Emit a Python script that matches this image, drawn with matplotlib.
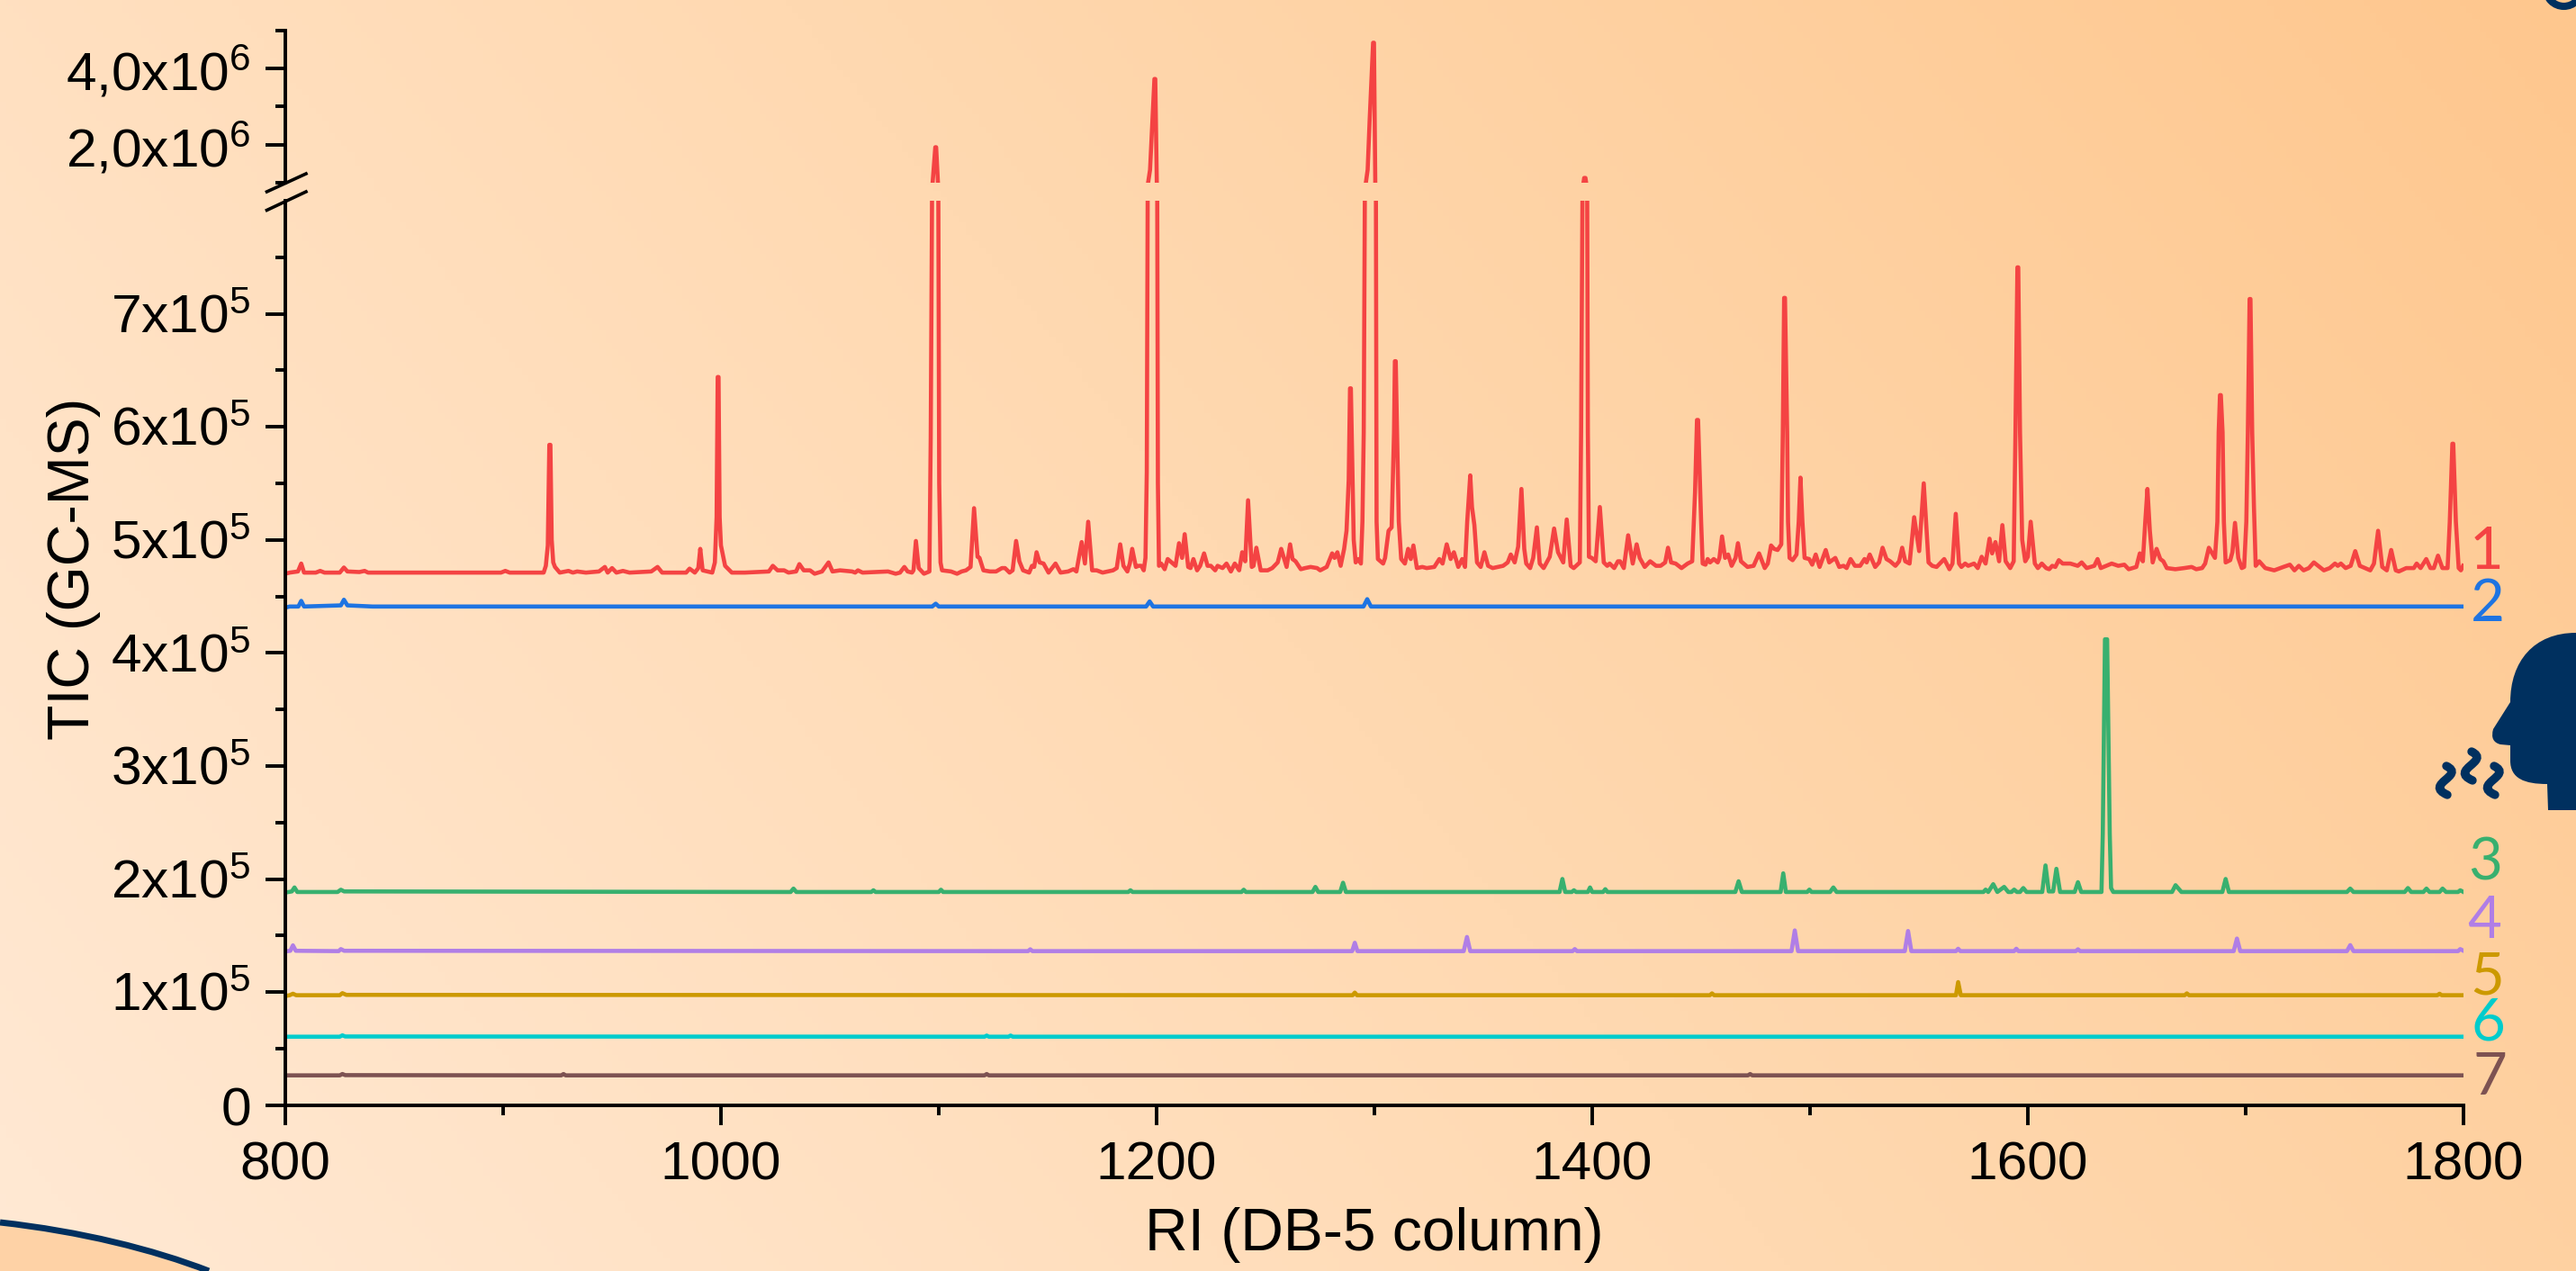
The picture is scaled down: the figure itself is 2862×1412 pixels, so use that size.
import numpy as np
from matplotlib import pyplot as plt
from matplotlib.path import Path
from matplotlib.patches import PathPatch, Circle
from matplotlib.colors import LinearSegmentedColormap

W, H = 2862, 1412

# all TIC values are in units of 1e5
trace1 = [(800,4.70),(802,4.71),(805.8,4.72),(807.3,4.79),(808.6,4.71),(814,4.71),(816,4.725),(818,4.71),(825,4.71),
(826.9,4.755),(828.5,4.72),(834,4.715),(836.4,4.725),(838,4.71),(899,4.71),(901,4.725),(903,4.71),(918.6,4.71),
(919.6,4.77),(920.5,4.95),(921.2,5.84),(921.7,5.84),(922.3,5.0),(923,4.8),(923.8,4.76),(926,4.71),(930,4.725),(932,4.71),
(934,4.72),(938,4.71),(944,4.72),(946.7,4.76),(948,4.71),(950,4.75),(952,4.71),(955,4.725),(958,4.71),(968,4.72),
(970.9,4.76),(973,4.71),(984,4.71),(985.6,4.745),(988,4.71),(989.6,4.75),(990.5,4.92),(991.6,4.73),(996,4.71),(997.2,4.8),
(998.0,5.2),(998.5,6.44),(998.9,6.44),(999.4,5.2),(1000,4.95),(1001.9,4.77),(1005,4.71),(1011,4.71),(1022,4.72),(1023.8,4.77),
(1026,4.73),(1029,4.73),(1031,4.71),(1034.5,4.72),(1036,4.785),(1038,4.73),(1040.9,4.73),(1043,4.70),(1046.4,4.72),
(1049.4,4.80),(1051.2,4.72),(1054.7,4.73),(1060.2,4.72),(1061.6,4.71),(1062.9,4.73),(1065,4.71),(1076.7,4.72),(1080.2,4.70),
(1082.2,4.71),(1084.2,4.76),(1085.7,4.72),(1087.7,4.71),(1088.4,4.73),(1089.5,4.99),(1090.8,4.75),(1093.2,4.70),(1095.7,4.72),
(1096.3,5.9),(1096.9,8.0),(1098.4,19.3),(1098.8,19.3),(1099.8,8),(1100.2,5.5),(1100.8,4.8),(1101.5,4.73),(1105.6,4.72),
(1108.4,4.70),(1110.5,4.72),(1112.5,4.73),(1114.6,4.76),(1116.2,5.28),(1117.8,4.85),(1118.7,4.84),(1120.5,4.73),(1123.5,4.72),
(1126.3,4.72),(1129,4.75),(1130.4,4.75),(1132.5,4.71),(1133.9,4.73),(1135.5,4.99),(1137,4.81),(1138.7,4.73),(1141.5,4.71),
(1142.8,4.77),(1143.8,4.76),(1144.9,4.89),(1146.3,4.80),(1148.1,4.79),(1150.4,4.71),(1153.6,4.79),(1155.9,4.71),(1159.4,4.72),
(1161.8,4.74),(1163.2,4.72),(1165.6,4.98),(1167.1,4.79),(1168.6,5.16),(1170.4,4.73),(1172.5,4.73),(1175.2,4.71),(1180,4.73),
(1181.7,4.75),(1183.3,4.96),(1184.8,4.77),(1186.6,4.72),(1187.7,4.79),(1188.8,4.92),(1190.5,4.76),(1191.7,4.77),(1193,4.77),
(1194.1,4.73),(1194.9,4.84),(1195.5,5.6),(1195.9,8),(1196.1,10),(1197,13.4),(1199,37.2),(1199.4,37.2),(1200.1,10),(1200.3,8),
(1200.6,5.5),(1201.1,4.77),(1202.1,4.79),(1203.7,4.74),(1205.1,4.83),(1206.9,4.80),(1208.7,4.77),(1210.3,4.97),(1211.7,4.84),
(1212.9,5.05),(1214.5,4.76),(1215.6,4.75),(1216.9,4.83),(1218.6,4.73),(1220,4.77),(1221.8,4.88),(1223.4,4.77),(1224.9,4.77),
(1226.9,4.73),(1228,4.77),(1230.3,4.75),(1232.1,4.79),(1234.1,4.72),(1235.9,4.79),(1237.9,4.73),(1239.3,4.89),(1240.7,4.81),
(1242,5.35),(1243.7,4.76),(1244.5,4.77),(1245.8,4.93),(1247.8,4.73),(1251,4.73),(1253.1,4.75),(1255.6,4.80),(1257.2,4.92),
(1259.7,4.76),(1261.3,4.96),(1262.4,4.83),(1263.8,4.81),(1266.2,4.74),(1268.2,4.75),(1270.7,4.76),(1273.7,4.75),(1275.1,4.73),
(1278.1,4.76),(1280.6,4.88),(1281.7,4.84),(1283,4.89),(1284.5,4.77),(1286.1,4.92),(1287.2,5.08),(1288.2,5.53),(1288.8,6.34),
(1289.2,6.34),(1290,5.53),(1290.5,5.0),(1291.4,4.80),(1292.7,4.83),(1293.8,4.79),(1294.5,5.16),(1295.1,5.95),(1295.6,8),
(1296.9,13.4),(1297.8,26.2),(1299.4,46.7),(1299.8,46.7),(1300.4,10),(1300.7,8),(1301,5.16),(1301.6,4.83),(1304,4.79),
(1304.9,4.84),(1306.5,5.08),(1307.9,5.11),(1309,5.95),(1309.4,6.58),(1309.8,6.58),(1310.4,5.95),(1311.2,5.16),(1312.3,4.83),
(1314,4.79),(1315.5,4.92),(1316.7,4.83),(1317.9,4.95),(1319.5,4.75),(1322,4.76),(1324,4.75),(1327.5,4.76),(1329.8,4.83),
(1331.3,4.79),(1333.2,4.96),(1335,4.83),(1336.5,4.89),(1338.5,4.76),(1340.3,4.83),(1341.6,4.76),(1342.6,5.16),(1344,5.57),
(1344.8,5.29),(1345.9,5.13),(1347.1,4.80),(1348.8,4.76),(1350.5,4.89),(1352.2,4.77),(1354.3,4.75),(1359.1,4.77),(1361.2,4.80),
(1362.6,4.87),(1364.4,4.80),(1366,4.94),(1367.5,5.45),(1368.8,4.92),(1369.7,4.79),(1371.5,4.75),(1372.9,4.84),(1374.6,5.11),
(1375.9,4.79),(1377.7,4.75),(1380.5,4.85),(1382.5,5.10),(1384.3,4.89),(1386.7,4.80),(1388.3,5.18),(1390.1,4.77),(1391.5,4.75),
(1394.3,4.80),(1394.9,5.95),(1395.5,8),(1396.3,11.25),(1396.9,11.25),(1397.7,8),(1398,5.95),(1398.5,4.85),(1399.8,4.84),
(1401.6,4.81),(1403.5,5.29),(1405.3,4.80),(1406.9,4.77),(1408,4.79),(1410.1,4.75),(1411.8,4.81),(1412.8,4.81),(1414.5,4.75),
(1416.5,5.04),(1418.6,4.79),(1420.4,4.96),(1421.8,4.84),(1424.1,4.76),(1426.6,4.81),(1429.3,4.77),(1431.4,4.77),(1433.5,4.80),
(1434.8,4.93),(1436.2,4.80),(1438.3,4.79),(1441,4.75),(1443.8,4.79),(1445.9,4.81),(1447.2,5.42),(1448.1,6.06),(1448.6,6.06),
(1450,5.16),(1450.7,4.79),(1452,4.78),(1453,4.83),(1454.1,4.80),(1455.8,4.83),(1457.6,4.80),(1458.4,4.84),(1459.6,5.03),
(1461,4.84),(1462.4,4.87),(1464,4.77),(1465.8,4.84),(1466.9,4.97),(1468.3,4.81),(1471.3,4.76),(1474.1,4.77),(1476.6,4.88),
(1479.2,4.75),(1480.6,4.79),(1482.1,4.95),(1483.5,4.92),(1485.1,4.91),(1486.8,4.96),(1487.5,5.95),(1488.1,7.14),(1488.5,7.14),
(1489.5,5.95),(1489.9,5.16),(1490.6,4.84),(1492,4.82),(1493.8,4.87),(1494.8,5.16),(1495.6,5.55),(1496.5,5.16),(1497.5,4.84),
(1499.6,4.83),(1501,4.78),(1502.6,4.87),(1504.4,4.76),(1507.2,4.91),(1508.8,4.80),(1511.6,4.84),(1513.4,4.76),(1515.4,4.77),
(1516.8,4.75),(1518.6,4.83),(1520.6,4.77),(1523,4.77),(1525,4.83),(1526,4.80),(1527.4,4.87),(1529.9,4.76),(1531.7,4.80),
(1533.3,4.93),(1535.1,4.83),(1536.8,4.81),(1539.2,4.77),(1540.9,4.81),(1542.3,4.93),(1543.7,4.81),(1545.7,4.79),(1547.8,5.20),
(1550.1,4.90),(1552.2,5.50),(1554.4,4.80),(1556.1,4.77),(1558.1,4.76),(1561.6,4.83),(1564,4.74),(1565.4,4.79),(1566.9,5.23),
(1568.4,4.79),(1569.5,4.76),(1571.2,4.79),(1572.6,4.77),(1575.3,4.79),(1577,4.75),(1578.8,4.85),(1580.6,4.79),(1582.4,5.01),
(1583.6,4.88),(1585.1,4.98),(1586.8,4.81),(1588.3,5.13),(1589.8,4.81),(1591.9,4.75),(1593.5,4.81),(1594.3,5.95),(1595.2,7.41),
(1595.6,7.41),(1596.4,5.95),(1597.4,5.0),(1598.8,4.81),(1600,4.85),(1601.3,5.16),(1603.2,4.79),(1604.6,4.75),(1606.4,4.79),
(1608.4,4.75),(1609.8,4.74),(1611.2,4.77),(1612.6,4.76),(1614.2,4.82),(1616,4.79),(1619.5,4.79),(1622.9,4.77),(1624.7,4.80),
(1627,4.75),(1630.5,4.77),(1632,4.83),(1633.5,4.75),(1636,4.77),(1638.5,4.79),(1641.5,4.77),(1644.3,4.78),(1646.3,4.74),
(1649.8,4.76),(1651.4,4.88),(1652.8,4.81),(1653.9,5.16),(1654.9,5.45),(1656,5.08),(1657.3,4.80),(1659.1,4.92),(1660.8,4.83),
(1662.2,4.81),(1663.8,4.75),(1667.7,4.74),(1671.8,4.75),(1675.2,4.76),(1677.3,4.74),(1680,4.75),(1681.4,4.79),(1683.1,4.93),
(1685.9,4.84),(1687,5.16),(1687.6,5.95),(1688.2,6.28),(1688.6,6.28),(1689.4,5.95),(1690,5.16),(1690.8,4.80),(1692.9,4.82),
(1693.9,4.89),(1695.1,5.15),(1696.6,4.84),(1698.2,4.75),(1699.3,4.76),(1700.3,5.16),(1701,5.95),(1701.8,7.13),(1702.2,7.13),
(1703,5.95),(1703.8,5.29),(1704.6,4.77),(1706.2,4.81),(1709,4.75),(1713.1,4.73),(1717.3,4.76),(1720.3,4.78),(1722.4,4.73),
(1724.4,4.77),(1726.6,4.73),(1729,4.75),(1731.3,4.80),(1735.9,4.73),(1738.6,4.75),(1741,4.79),(1742.3,4.77),(1743.7,4.79),
(1745.9,4.75),(1748.2,4.77),(1750.3,4.90),(1752.4,4.77),(1757.2,4.73),(1758.9,4.79),(1760.8,5.08),(1762.7,4.76),(1764.8,4.73),
(1766.8,4.91),(1768.9,4.73),(1770.3,4.72),(1773.7,4.75),(1777.2,4.75),(1778.5,4.79),(1780.3,4.75),(1782.9,4.83),(1784.8,4.75),
(1786.4,4.75),(1788.3,4.86),(1790.3,4.75),(1792.7,4.75),(1793.7,5.16),(1794.9,5.85),(1795.3,5.85),(1796.5,5.16),(1797.8,4.75),
(1798.8,4.73),(1799.8,4.77)]

trace2 = [(800,4.40),(802,4.41),(806,4.41),(807.3,4.46),(808.6,4.41),(825.5,4.42),(826.9,4.47),(828.5,4.42),(840,4.41),
(1097,4.41),(1098.6,4.435),(1100,4.41),(1195.2,4.41),(1196.8,4.455),(1198.4,4.41),(1295,4.41),(1296.7,4.475),(1298.4,4.41),(1800,4.41)]

trace3 = [(800,1.88),(803,1.89),(804.2,1.925),(805.5,1.885),(824,1.885),(825.5,1.905),(827,1.89),(1032,1.885),(1033.3,1.915),
(1034.6,1.885),(1069,1.885),(1070,1.90),(1071,1.885),(1100,1.885),(1101,1.905),(1102,1.885),(1187,1.885),(1188,1.90),(1189,1.885),
(1239,1.885),(1240,1.905),(1241,1.885),(1271.6,1.885),(1272.9,1.93),(1274.2,1.885),(1284.3,1.885),(1285.6,1.967),(1286.9,1.885),
(1385,1.885),(1386.3,2.0),(1387.6,1.885),(1390.6,1.885),(1391.6,1.90),(1392.6,1.885),(1398,1.885),(1399,1.925),(1400,1.885),
(1405,1.885),(1406,1.91),(1407,1.885),(1465.7,1.885),(1467.2,1.98),(1468.7,1.885),(1486.5,1.885),(1487.7,2.05),(1488.9,1.885),
(1498.7,1.885),(1499.7,1.906),(1500.7,1.885),(1509.2,1.885),(1510.7,1.925),(1512.2,1.885),(1579.6,1.885),(1580.6,1.906),(1581.8,1.885),
(1584.1,1.954),(1586,1.885),(1589.1,1.93),(1591,1.885),(1592.5,1.885),(1593.7,1.906),(1595,1.885),(1596.4,1.885),(1597.9,1.92),
(1599.4,1.885),(1606.6,1.885),(1608.1,2.12),(1609.6,1.89),(1611.6,1.89),(1613.1,2.09),(1614.8,1.885),(1621.5,1.885),(1623,1.972),
(1624.5,1.885),(1633.8,1.885),(1634.4,2.4),(1635.4,4.12),(1636.4,4.12),(1637.6,2.4),(1638.2,1.92),(1639.2,1.885),(1666.2,1.885),
(1667.8,1.945),(1670.5,1.885),(1689.3,1.885),(1690.8,2.0),(1692.3,1.885),(1746.5,1.885),(1748,1.915),(1749.5,1.885),(1773,1.885),
(1774.5,1.92),(1776,1.885),(1781.6,1.885),(1783,1.915),(1784.4,1.885),(1789,1.885),(1790.4,1.915),(1792,1.885),(1797.5,1.885),
(1798.5,1.90),(1800,1.885)]

trace4 = [(800,1.36),(802.3,1.365),(803.5,1.413),(804.8,1.365),(824.5,1.362),(825.5,1.38),(827,1.365),(1141,1.362),(1142,1.378),
(1143,1.362),(1289.8,1.362),(1291,1.436),(1292.2,1.362),(1341,1.362),(1342.5,1.487),(1344,1.362),(1391,1.362),(1392,1.38),(1393,1.362),
(1491.5,1.362),(1493,1.545),(1494.5,1.362),(1543.5,1.362),(1545,1.54),(1546.5,1.362),(1567,1.362),(1568,1.383),(1569,1.362),
(1593.7,1.362),(1594.7,1.383),(1595.7,1.362),(1622,1.362),(1623,1.378),(1624,1.362),(1694.5,1.362),(1696,1.473),(1697.5,1.362),
(1746.5,1.362),(1748,1.415),(1749.5,1.362),(1797.5,1.362),(1798.5,1.38),(1800,1.365)]

trace5 = [(800,0.965),(802,0.972),(803.5,0.985),(805,0.972),(825,0.972),(826.2,0.99),(828,0.975),(1290,0.972),(1291,0.995),(1292,0.972),
(1454,0.972),(1455,0.988),(1456,0.972),(1567,0.972),(1568,1.088),(1569.2,0.972),(1672,0.972),(1673,0.988),(1674,0.972),
(1788,0.972),(1789,0.985),(1790,0.972),(1800,0.972)]

trace6 = [(800,0.605),(825,0.605),(826.2,0.617),(827.5,0.607),(1121,0.605),(1122,0.615),(1123,0.605),(1132,0.605),(1133,0.615),(1134,0.605),(1800,0.605)]

trace7 = [(800,0.263),(825,0.263),(826.2,0.275),(827.5,0.265),(926.7,0.263),(927.7,0.275),(928.7,0.263),(1121,0.263),(1122,0.275),(1123,0.263),
(1471.5,0.263),(1472.5,0.275),(1473.5,0.263),(1800,0.263)]

series_colors = ['#f44343', '#1e74e2', '#38b06f', '#b07ee6', '#cc9900', '#00cccc', '#7d5252']
series_labels = ['1', '2', '3', '4', '5', '6', '7']
label_y = [613, 671, 959, 1024, 1086, 1137, 1197]
label_x = [2763, 2764, 2761, 2760, 2763, 2764, 2766]

low_major = [0, 1, 2, 3, 4, 5, 6, 7]
low_minor = [0.5, 1.5, 2.5, 3.5, 4.5, 5.5, 6.5, 7.5]
low_labels = ['0', '1x10^{5}', '2x10^{5}', '3x10^{5}', '4x10^{5}', '5x10^{5}', '6x10^{5}', '7x10^{5}']
up_major = [20, 40]
up_minor = [10, 30, 50]
up_labels = ['2{,}0x10^{6}', '4{,}0x10^{6}']
x_major = [800, 1000, 1200, 1400, 1600, 1800]
x_minor = [900, 1100, 1300, 1500, 1700]

plt.rcParams['font.family'] = 'Liberation Sans'
plt.rcParams['mathtext.fontset'] = 'custom'
plt.rcParams['mathtext.rm'] = 'Liberation Sans'
plt.rcParams['mathtext.default'] = 'rm'

fig = plt.figure(figsize=(W / 100, H / 100), dpi=100)

# page behind the chart, in pixel coordinates
bg = fig.add_axes([0, 0, 1, 1])
bg.set_xlim(0, W)
bg.set_ylim(H, 0)
bg.axis('off')
yy, xx = np.mgrid[0:1:200j, 0:1:400j]
grad = 0.72 * xx + 0.28 * (1 - yy)
cmap = LinearSegmentedColormap.from_list('page', ['#ffe9d4', '#ffd9b1', '#fec78e'])
bg.imshow(grad, cmap=cmap, extent=[0, W, H, 0], aspect='auto', vmin=0, vmax=1, zorder=0)

navy = '#00305f'
head = Path([(2862, 703), (2815, 703), (2789, 735), (2789, 780), (2770, 810), (2766, 824), (2778, 827),
             (2789, 828), (2789, 845), (2789, 865), (2805, 871), (2830, 871), (2831, 900), (2862, 900), (2862, 703)],
            [Path.MOVETO, Path.CURVE4, Path.CURVE4, Path.CURVE4, Path.LINETO, Path.CURVE3, Path.CURVE3,
             Path.LINETO, Path.LINETO, Path.CURVE4, Path.CURVE4, Path.CURVE4, Path.LINETO, Path.LINETO, Path.CLOSEPOLY])
bg.add_patch(PathPatch(head, fc=navy, ec='none', zorder=1))
for cx, cy in [(2716, 867), (2744, 851), (2769, 867)]:
    wave = Path([(cx + 2, cy - 16), (cx + 24, cy - 5), (cx - 24, cy + 4), (cx + 3, cy + 16)],
                [Path.MOVETO, Path.CURVE4, Path.CURVE4, Path.CURVE4])
    bg.add_patch(PathPatch(wave, fc='none', ec=navy, lw=6.8, capstyle='round', zorder=1))
curve = [(0, 1358), (90, 1368), (170, 1388), (232, 1412)]
curve_codes = [Path.MOVETO, Path.CURVE4, Path.CURVE4, Path.CURVE4]
fill = Path(curve + [(0, 1412), (0, 1358)], curve_codes + [Path.LINETO, Path.LINETO])
bg.add_patch(PathPatch(fill, fc='#fed2a6', ec='none', zorder=1))
bg.add_patch(PathPatch(Path(curve, curve_codes), fc='none', ec=navy, lw=5, zorder=1))
bg.add_patch(Circle((2848.5, -13), 20, fc='none', ec=navy, lw=5.8, zorder=1))

for name, x, y, c in zip(series_labels, label_x, label_y, series_colors):
    bg.text(x, y, name, color=c, family='Lato', fontsize=47, ha='center', va='center', zorder=2)
bg.text(82, 632, 'TIC (GC-MS)', rotation=90, fontsize=46.5, ha='center', va='center', zorder=2)
bg.text(1527, 1372, 'RI (DB-5 column)', fontsize=47.5, ha='center', va='center', zorder=2)

L, R = 317 / W, (2737 - 317) / W
ax = fig.add_axes([L, 1 - 1227.7 / H, R, (1227.7 - 222.9) / H])
ax_up = fig.add_axes([L, 1 - 203 / H, R, (203 - 33.5) / H])

traces = [trace1, trace2, trace3, trace4, trace5, trace6, trace7]
for tr, c in zip(traces, series_colors):
    ri, tic = zip(*tr)
    ax.plot(ri, tic, color=c, lw=3.3, solid_joinstyle='round')
    ax_up.plot(ri, tic, color=c, lw=3.3, solid_joinstyle='round')

ax.set_xlim(800, 1800)
ax.set_ylim(0, 8)
ax_up.set_xlim(800, 1800)
ax_up.set_ylim(10, 50)

for a in (ax, ax_up):
    a.patch.set_alpha(0)
    a.spines['top'].set_visible(False)
    a.spines['right'].set_visible(False)
    a.spines['left'].set_linewidth(2.8)
    a.spines['bottom'].set_linewidth(2.8)
ax_up.spines['bottom'].set_visible(False)
ax_up.tick_params(axis='x', which='both', bottom=False, labelbottom=False)

ax.set_xticks(x_major)
ax.set_xticks(x_minor, minor=True)
ax.set_yticks(low_major)
ax.set_yticks(low_minor, minor=True)
ax.set_yticklabels([r'$\mathdefault{%s}$' % s for s in low_labels])
ax_up.set_yticks(up_major)
ax_up.set_yticks(up_minor, minor=True)
ax_up.set_yticklabels([r'$\mathdefault{%s}$' % s for s in up_labels])
for a in (ax, ax_up):
    a.tick_params(axis='both', which='major', length=16, width=2.8, labelsize=43.5, pad=12)
    a.tick_params(axis='both', which='minor', length=8, width=2.8)
ax.tick_params(axis='x', which='major', pad=13)

# break marks on the y axis
for y0, y1 in [(213, 193), (233.5, 213)]:
    bg.plot([296.5, 340], [y0, y1], color='black', lw=2.6, zorder=5, clip_on=False)

fig.savefig('out.png', dpi=100)
